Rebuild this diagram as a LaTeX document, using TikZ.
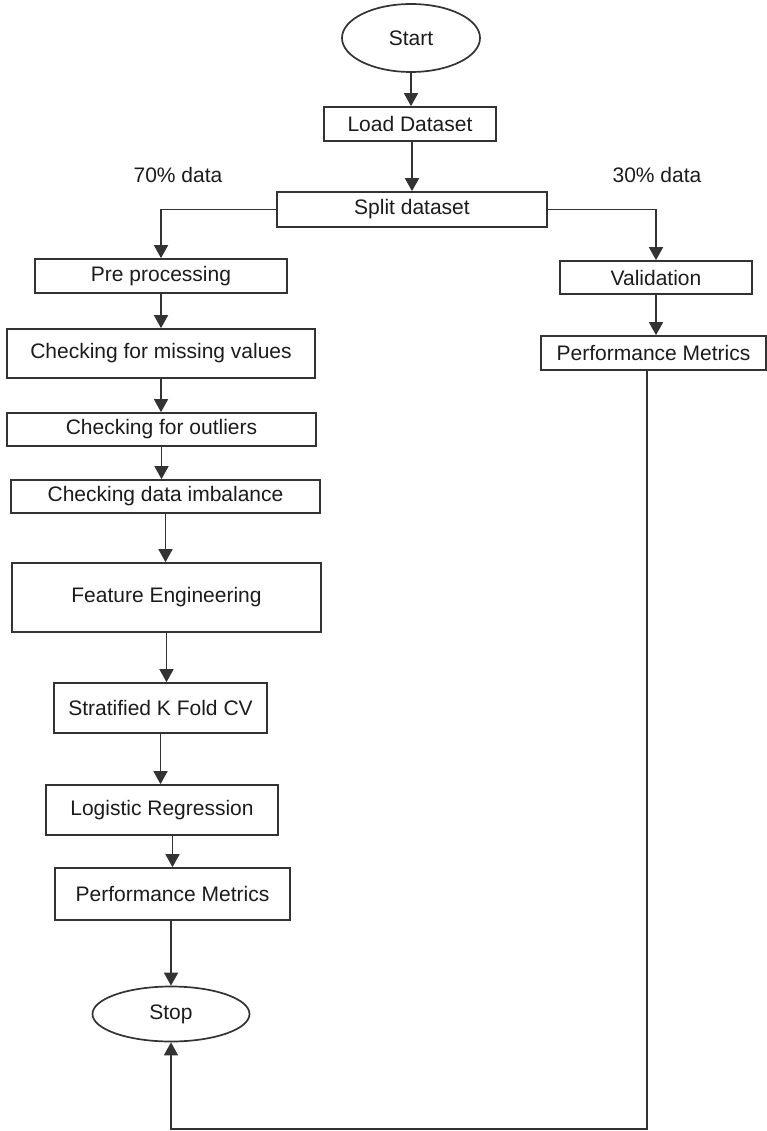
\documentclass[tikz,border=0pt]{standalone}
\usepackage{fontspec}
\setmainfont{Liberation Sans}
\usetikzlibrary{arrows.meta,shapes.geometric}
\definecolor{ink}{HTML}{333333}
\definecolor{txt}{HTML}{1C1C1C}
\begin{document}
\begin{tikzpicture}[x=1pt,y=-1pt,
  box/.style={rectangle, draw=ink, line width=1.7pt, fill=white, inner sep=0pt,
    font=\fontsize{21}{25}\selectfont, text=txt},
  term/.style={ellipse, draw=ink, line width=1.7pt, fill=white, inner sep=0pt,
    font=\fontsize{21}{25}\selectfont, text=txt},
  lbl/.style={font=\fontsize{21}{25}\selectfont, text=txt, inner sep=0pt},
  link/.style={draw=ink, line width=1.7pt},
  flow/.style={link, -{Triangle[width=14pt,length=13pt]}}]
\useasboundingbox (0,0) rectangle (767,1131);

% terminals
\node[term, minimum width=138, minimum height=68] (start) at (411,38) {Start};
\node[term, minimum width=157, minimum height=55] (stop) at (171,1014) {Stop};

% main trunk
\node[box, minimum width=172, minimum height=34] (load)  at (410,124)   {Load Dataset};
\node[box, minimum width=270, minimum height=35] (split) at (412,209.5) {Split dataset};

% training branch
\node[box, minimum width=252, minimum height=34] (pre)   at (161,276)   {Pre processing};
\node[box, minimum width=308, minimum height=49] (miss)  at (161,353.5) {Checking for missing values};
\node[box, minimum width=309, minimum height=33] (outl)  at (161.5,429.5) {Checking for outliers};
\node[box, minimum width=309, minimum height=33] (imb)   at (165.5,496.5) {Checking data imbalance};
\node[box, minimum width=309, minimum height=69] (feat)  at (166.5,597.5) {Feature Engineering};
\node[box, minimum width=213, minimum height=50] (strat) at (160.5,708)   {Stratified K Fold CV};
\node[box, minimum width=232, minimum height=50] (logr)  at (162,810)     {Logistic Regression};
\node[box, minimum width=235, minimum height=52] (perfA) at (172.5,894)   {Performance Metrics};

% validation branch
\node[box, minimum width=192, minimum height=33] (val)   at (656,277.5)  {Validation};
\node[box, minimum width=225, minimum height=34] (perfB) at (653.5,353)  {Performance Metrics};

% split labels
\node[lbl] (lblA) at (178,175) {70\% data};
\node[lbl] (lblB) at (657,175) {30\% data};

% connectors
\draw[flow] (start.south) -- (start.south |- load.north);
\draw[flow] (load.south -| split.north) -- (split.north);
\draw[flow] (split.west) -| (pre.north);
\draw[flow] (split.east) -| (val.north);
\draw[flow] (pre.south) -- (pre.south |- miss.north);
\draw[flow] (miss.south) -- (miss.south |- outl.north);
\draw[flow] (outl.south) -- (outl.south |- imb.north);
\draw[flow] (imb.south) -- (imb.south |- feat.north);
\draw[flow] (feat.south) -- (feat.south |- strat.north);
\draw[flow] (strat.south) -- (strat.south |- logr.north);
\draw[flow] (perfA.north |- logr.south) -- (perfA.north);
\draw[flow] (perfA.south -| stop.north) -- (stop.north);
\draw[flow] (val.south) -- (val.south |- perfB.north);

\coordinate (turn) at (647,1129);
\draw[flow] (perfB.south -| turn) -- (turn) -- (turn -| stop.south) -- (stop.south);
\end{tikzpicture}
\end{document}
